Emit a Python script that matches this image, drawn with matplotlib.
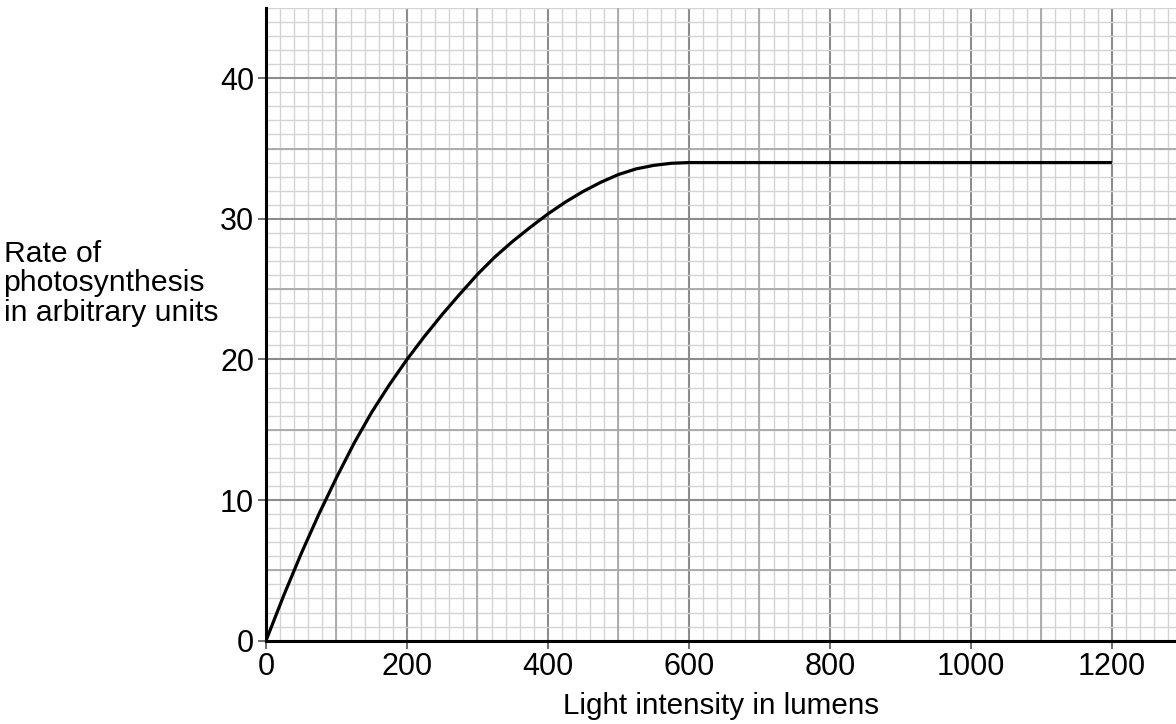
import numpy as np
import matplotlib.pyplot as plt
from matplotlib.ticker import MultipleLocator

plt.rcParams['font.family'] = ['Liberation Sans', 'DejaVu Sans']

# values
light = [0, 25, 50, 75, 100, 125, 150, 175, 200, 225, 250, 275, 300, 325, 350,
         375, 400, 425, 450, 475, 500, 525, 550, 575, 600, 1200]
rate = [0, 3.2, 6.2, 9.0, 11.6, 14.05, 16.25, 18.2, 20.0, 21.65, 23.2, 24.65,
        26.05, 27.3, 28.4, 29.4, 30.35, 31.2, 31.95, 32.6, 33.15, 33.55, 33.8,
        33.95, 34.0, 34.0]

xticks = [0, 200, 400, 600, 800, 1000, 1200]
yticks = [0, 10, 20, 30, 40]

fig = plt.figure(figsize=(11.76, 7.24), dpi=100)
ax = fig.add_axes([0.2262, 0.1151, 0.7738, 0.874])

ax.set_xlim(0, 1291)
ax.set_ylim(0, 45)

ax.xaxis.set_minor_locator(MultipleLocator(20))
ax.yaxis.set_minor_locator(MultipleLocator(1))
ax.set_xticks(xticks)
ax.set_yticks(yticks)

# graph paper grid
ax.grid(which='minor', color='#d4d4d4', linewidth=1.0)
ax.grid(which='major', color='#8c8c8c', linewidth=1.5)
for x in np.arange(100, 1300, 200):
    ax.axvline(x, color='#a8a8a8', linewidth=1.3, zorder=0.6)
for y in np.arange(5, 45, 10):
    ax.axhline(y, color='#a8a8a8', linewidth=1.3, zorder=0.6)
ax.set_axisbelow(True)

ax.plot(light, rate, color='black', linewidth=2.3, solid_capstyle='butt',
        solid_joinstyle='round')

for s in ['top', 'right']:
    ax.spines[s].set_visible(False)
for s in ['left', 'bottom']:
    ax.spines[s].set_linewidth(2.2)
    ax.spines[s].set_color('black')

ax.tick_params(which='minor', length=0)
ax.tick_params(which='major', length=5.5, width=1.2, color='#555555',
               labelsize=22)
ax.tick_params(axis='x', pad=3)
ax.tick_params(axis='y', pad=3)

ax.set_xlabel('Light intensity in lumens', fontsize=21.3, labelpad=6.5)
fig.text(0.003, 0.669, 'Rate of\nphotosynthesis\nin arbitrary units',
         fontsize=21.7, ha='left', va='top', linespacing=1.07)

fig.savefig('out.png', dpi=100)
